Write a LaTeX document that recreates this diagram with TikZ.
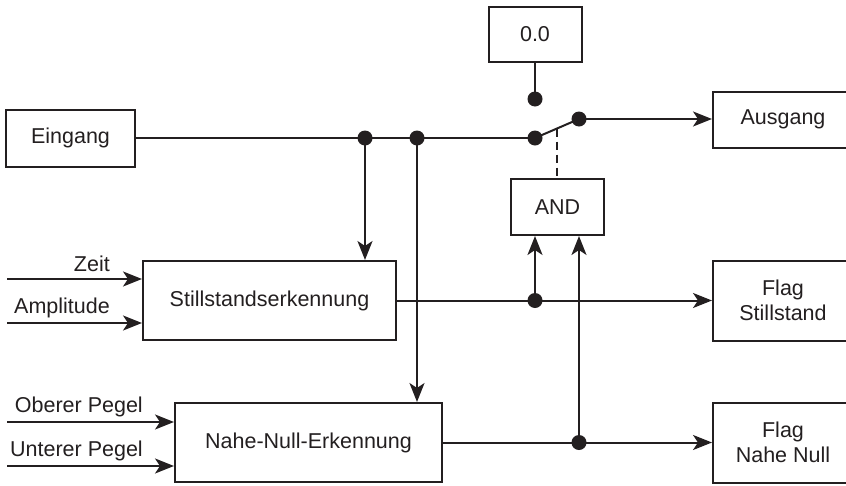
\documentclass[tikz,border=0pt]{standalone}
\usepackage{fontspec}
\setmainfont{Liberation Sans}
\usetikzlibrary{arrows.meta,calc}
\definecolor{ink}{RGB}{35,31,32}
\begin{document}
\begin{tikzpicture}[x=1pt,y=-1pt,
  every node/.style={text=ink,font=\fontsize{21.5}{25}\selectfont},
  box/.style={draw=ink,line width=2pt,inner sep=0pt,align=center},
  conn/.style={draw=ink,line width=2pt},
  arr/.style={conn,-{Stealth[length=19pt,width=15pt,inset=5pt]}},
  dot/.style={circle,fill=ink,inner sep=0pt,minimum size=15pt},
  lbl/.style={inner sep=0pt,anchor=east}]
\useasboundingbox (0,0) rectangle (846,485);
\clip (0,0) rectangle (846,485);
% boxes
\node[box,minimum width=93pt,minimum height=55pt] (zero) at (535,34.5) {0.0};
\node[box,minimum width=129pt,minimum height=57pt] (ein) at (70.5,138) {Eingang};
\node[box,minimum width=140pt,minimum height=56pt] (aus) at (783,119.5) {Ausgang};
\node[box,minimum width=93pt,minimum height=56pt] (and) at (557.5,207) {AND};
\node[box,minimum width=253pt,minimum height=79pt] (still) at (269.5,300.5) {Stillstandserkennung};
\node[box,minimum width=267pt,minimum height=79pt] (nahe) at (308.5,442.5) {Nahe-Null-Erkennung};
\node[box,minimum width=140pt,minimum height=80pt] (flagS) at (783,300.5) {Flag\\Stillstand};
\node[box,minimum width=140pt,minimum height=80pt] (flagN) at (783,442.5) {Flag\\Nahe Null};
% junctions and switch
\coordinate (j1) at (365,138);
\coordinate (j2) at (417,138);
\coordinate (sw1) at (535,138);
\coordinate (sw2) at (579,119);
\coordinate (z0) at (535,99);
\coordinate (d3) at (535,300.5);
\coordinate (d4) at (579,442.5);
\coordinate (swm) at ($(sw1)!0.5!(sw2)$);
% main line
\draw[conn] (ein.east) -- (sw1);
\draw[conn] (sw1) -- (sw2);
\draw[arr] (sw2) -- (sw2 -| aus.west);
\draw[conn] (zero.south) -- (z0);
\draw[conn,dash pattern=on 8pt off 5pt] (swm) -- (swm |- and.north);
\draw[arr] (j1) -- (j1 |- still.north);
\draw[arr] (j2) -- (j2 |- nahe.north);
% outputs
\draw[arr] (still.east) -- (flagS.west);
\draw[arr] (nahe.east) -- (flagN.west);
\draw[arr] (d3) -- (d3 |- and.south);
\draw[arr] (d4) -- (d4 |- and.south);
% inputs
\coordinate (iz) at (7,279);
\coordinate (ia) at (7,323);
\coordinate (io) at (7,422);
\coordinate (iu) at (7,466);
\draw[arr] (iz) -- (iz -| still.west);
\draw[arr] (ia) -- (ia -| still.west);
\draw[arr] (io) -- (io -| nahe.west);
\draw[arr] (iu) -- (iu -| nahe.west);
\node[lbl] (lz) at (110,264) {Zeit};
\node[lbl] (la) at (110,308) {Amplitude};
\node[lbl] (lo) at (143,407) {Oberer Pegel};
\node[lbl] (lu) at (143,451) {Unterer Pegel};
% dots
\foreach \p in {j1,j2,sw1,sw2,z0,d3,d4} \node[dot] at (\p) {};
\end{tikzpicture}
\end{document}
